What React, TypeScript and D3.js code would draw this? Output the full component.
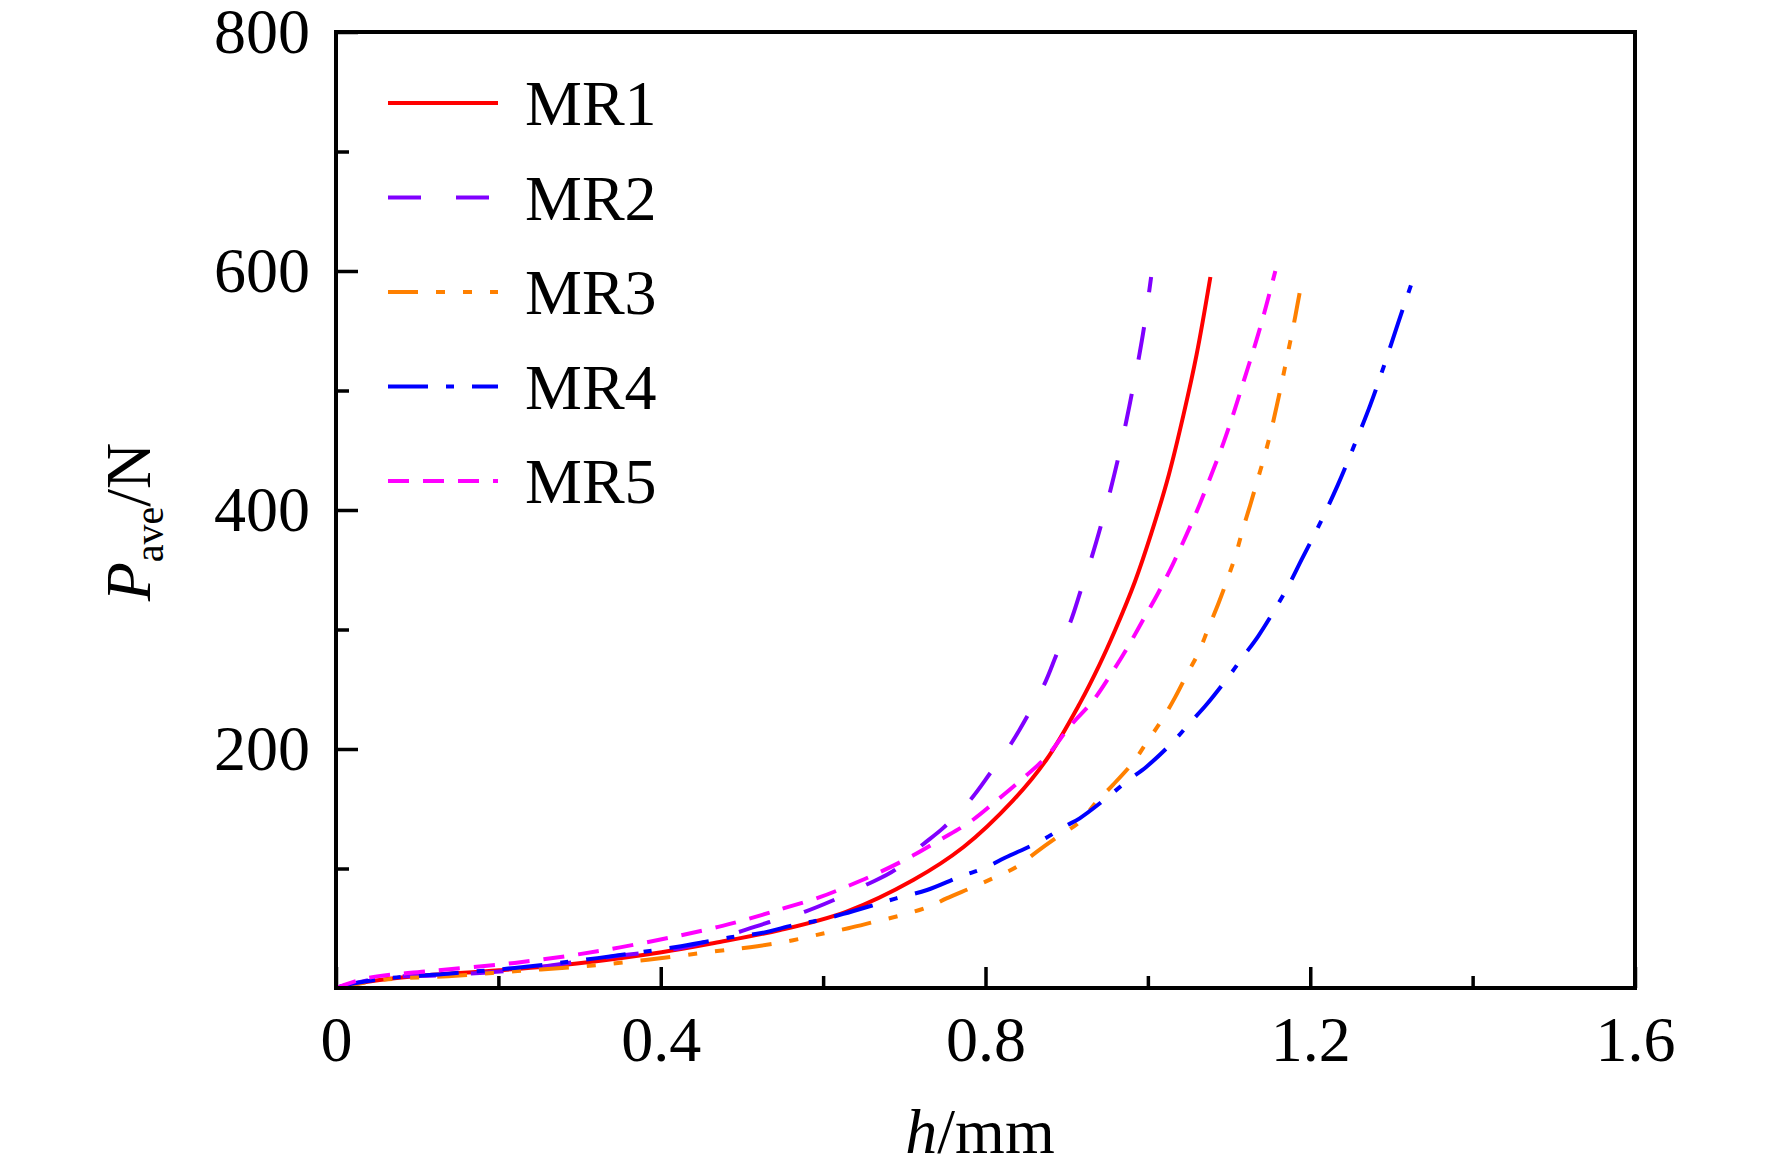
import React, { useEffect, useRef } from "react";
import * as d3 from "d3";

// [h (mm), P_ave (N)]
const mr1: [number, number][] = [
  [0, 0], [0.043, 5.6], [0.097, 9.8], [0.201, 14.8], [0.302, 21], [0.401, 30],
  [0.466, 37.7], [0.547, 48.5], [0.629, 64], [0.711, 90.4], [0.773, 118],
  [0.834, 157], [0.875, 191], [0.916, 238], [0.94, 270], [0.96, 300],
  [0.984, 340], [1.004, 380], [1.026, 430], [1.044, 480], [1.06, 530],
  [1.077, 595]
];

const mr2: [number, number][] = [
  [0, 0], [0.055, 8.4], [0.138, 11], [0.22, 15], [0.343, 26.5], [0.425, 33.5],
  [0.495, 46.6], [0.533, 55], [0.578, 64], [0.611, 73], [0.652, 86],
  [0.689, 99], [0.719, 118], [0.748, 134], [0.782, 158], [0.806, 180],
  [0.832, 205], [0.852, 228], [0.873, 255], [0.888, 280], [0.905, 307],
  [0.918, 334], [0.931, 361], [0.943, 389], [0.954, 417], [0.964, 445],
  [0.973, 473], [0.981, 500], [0.989, 528], [0.996, 556], [1.004, 595]
];

const mr3: [number, number][] = [
  [0, 0], [0.06, 7], [0.138, 9.8], [0.22, 14], [0.302, 18], [0.384, 23.7],
  [0.466, 30.7], [0.519, 35], [0.563, 40], [0.6, 45.6], [0.631, 50],
  [0.664, 55.5], [0.701, 61.7], [0.734, 69], [0.752, 75], [0.783, 84],
  [0.813, 93], [0.84, 102], [0.863, 114], [0.889, 126.6], [0.916, 139],
  [0.937, 156], [0.957, 170], [0.982, 189], [0.998, 205], [1.017, 224],
  [1.033, 242.6], [1.049, 263.6], [1.062, 280], [1.075, 302], [1.087, 322],
  [1.099, 344], [1.108, 362], [1.117, 384], [1.126, 404], [1.135, 425],
  [1.144, 446], [1.152, 467], [1.159, 488], [1.166, 510], [1.172, 530],
  [1.179, 553], [1.184, 571], [1.19, 593]
];

const mr4: [number, number][] = [
  [0, 0], [0.014, 2.8], [0.068, 8.4], [0.138, 12], [0.22, 16.8], [0.322, 25],
  [0.425, 35], [0.491, 43], [0.524, 46], [0.566, 53], [0.594, 56.6],
  [0.625, 62], [0.67, 71], [0.69, 75], [0.728, 82], [0.768, 93],
  [0.8, 100.7], [0.824, 109], [0.865, 122], [0.9, 136], [0.916, 142],
  [0.951, 160], [0.974, 173], [0.998, 185], [1.031, 206], [1.052, 222],
  [1.072, 237], [1.101, 262], [1.117, 277], [1.136, 294.5], [1.161, 322],
  [1.175, 339], [1.189, 358], [1.21, 386], [1.234, 421], [1.253, 452],
  [1.274, 488], [1.29, 519], [1.308, 556], [1.324, 588]
];

const mr5: [number, number][] = [
  [0, 0], [0.039, 8.4], [0.113, 14], [0.22, 21], [0.322, 30.7], [0.417, 43],
  [0.476, 52], [0.524, 61], [0.553, 67], [0.596, 76], [0.633, 86],
  [0.67, 97], [0.711, 111], [0.744, 124], [0.781, 139], [0.814, 157],
  [0.842, 173], [0.875, 193.5], [0.904, 219], [0.932, 240], [0.954, 262],
  [0.975, 285], [0.994, 308], [1.013, 331], [1.031, 355], [1.048, 380],
  [1.064, 405], [1.079, 431], [1.093, 456], [1.106, 482], [1.119, 510],
  [1.131, 536], [1.143, 564], [1.157, 600]
];

const seriesNames = ["MR1", "MR2", "MR3", "MR4", "MR5"];
const seriesData = [mr1, mr2, mr3, mr4, mr5];
const seriesColors = ["#FF0000", "#8000FF", "#FF8000", "#0000FF", "#FF00FF"];
const seriesDashes = ["none", "33,35", "30,18,9,18,9,18", "40,18,8,18", "21,14"];

const xTicks = [0, 0.4, 0.8, 1.2, 1.6];
const xMinorTicks = [0.2, 0.6, 1.0, 1.4];
const yTicks = [200, 400, 600, 800];
const yMinorTicks = [100, 300, 500, 700];

const W = 1772;
const H = 1175;
const margin = { left: 336, right: 1635, top: 32, bottom: 988 };
const font = "'Liberation Serif', 'Times New Roman', serif";

export default function App() {
  const svgRef = useRef<SVGSVGElement | null>(null);

  useEffect(() => {
    const svg = d3.select(svgRef.current);
    svg.selectAll("*").remove();

    const x = d3.scaleLinear().domain([0, 1.6]).range([margin.left, margin.right]);
    const y = d3.scaleLinear().domain([0, 800]).range([margin.bottom, margin.top]);

    // x axis
    const gx = svg.append("g").attr("transform", `translate(0,${margin.bottom})`);
    gx.call(
      d3.axisBottom(x).tickValues(xTicks).tickSize(-21).tickPadding(28)
        .tickFormat((d) => (d === 0 ? "0" : d3.format(".1f")(d as number)))
    );
    const gxm = svg.append("g").attr("transform", `translate(0,${margin.bottom})`);
    gxm.call(d3.axisBottom(x).tickValues(xMinorTicks).tickSize(-12).tickFormat(() => ""));

    // y axis
    const gy = svg.append("g").attr("transform", `translate(${margin.left},0)`);
    gy.call(d3.axisLeft(y).tickValues(yTicks).tickSize(-22).tickPadding(26));
    const gym = svg.append("g").attr("transform", `translate(${margin.left},0)`);
    gym.call(d3.axisLeft(y).tickValues(yMinorTicks).tickSize(-13).tickFormat(() => ""));

    svg.selectAll(".domain").remove();
    svg.selectAll(".tick line").attr("stroke", "#000").attr("stroke-width", 3.5);
    svg.selectAll(".tick text")
      .attr("fill", "#000")
      .style("font-family", font)
      .style("font-size", "64px");

    // curves
    const line = d3.line<[number, number]>()
      .x((d) => x(d[0]))
      .y((d) => y(d[1]))
      .curve(d3.curveCatmullRom.alpha(0.5));

    svg.append("g")
      .selectAll("path")
      .data(seriesData)
      .enter()
      .append("path")
      .attr("d", (d) => line(d))
      .attr("fill", "none")
      .attr("stroke", (_, i) => seriesColors[i])
      .attr("stroke-width", 4)
      .attr("stroke-dasharray", (_, i) => seriesDashes[i]);

    // frame
    svg.append("rect")
      .attr("x", margin.left)
      .attr("y", margin.top)
      .attr("width", margin.right - margin.left)
      .attr("height", margin.bottom - margin.top)
      .attr("fill", "none")
      .attr("stroke", "#000")
      .attr("stroke-width", 4);

    // legend
    const legend = svg.append("g");
    seriesNames.forEach((name, i) => {
      const ly = 103 + i * 94.5;
      legend.append("line")
        .attr("x1", 388).attr("x2", 498)
        .attr("y1", ly).attr("y2", ly)
        .attr("stroke", seriesColors[i])
        .attr("stroke-width", 4)
        .attr("stroke-dasharray", seriesDashes[i]);
      legend.append("text")
        .attr("x", 525)
        .attr("y", ly + 22)
        .style("font-family", font)
        .style("font-size", "64px")
        .text(name);
    });

    // axis titles
    const xt = svg.append("text")
      .attr("x", 980)
      .attr("y", 1153)
      .attr("text-anchor", "middle")
      .style("font-family", font)
      .style("font-size", "64px");
    xt.append("tspan").style("font-style", "italic").text("h");
    xt.append("tspan").text("/mm");

    const yt = svg.append("text")
      .attr("transform", "translate(150,522) rotate(-90)")
      .attr("text-anchor", "middle")
      .style("font-family", font)
      .style("font-size", "64px");
    yt.append("tspan").style("font-style", "italic").text("P");
    yt.append("tspan").attr("dy", 13).style("font-size", "40px").text("ave");
    yt.append("tspan").attr("dy", -13).text("/N");
  }, []);

  return (
    <svg
      ref={svgRef}
      width={W}
      height={H}
      style={{ position: "absolute", left: 0, top: 0, background: "#fff" }}
    />
  );
}
